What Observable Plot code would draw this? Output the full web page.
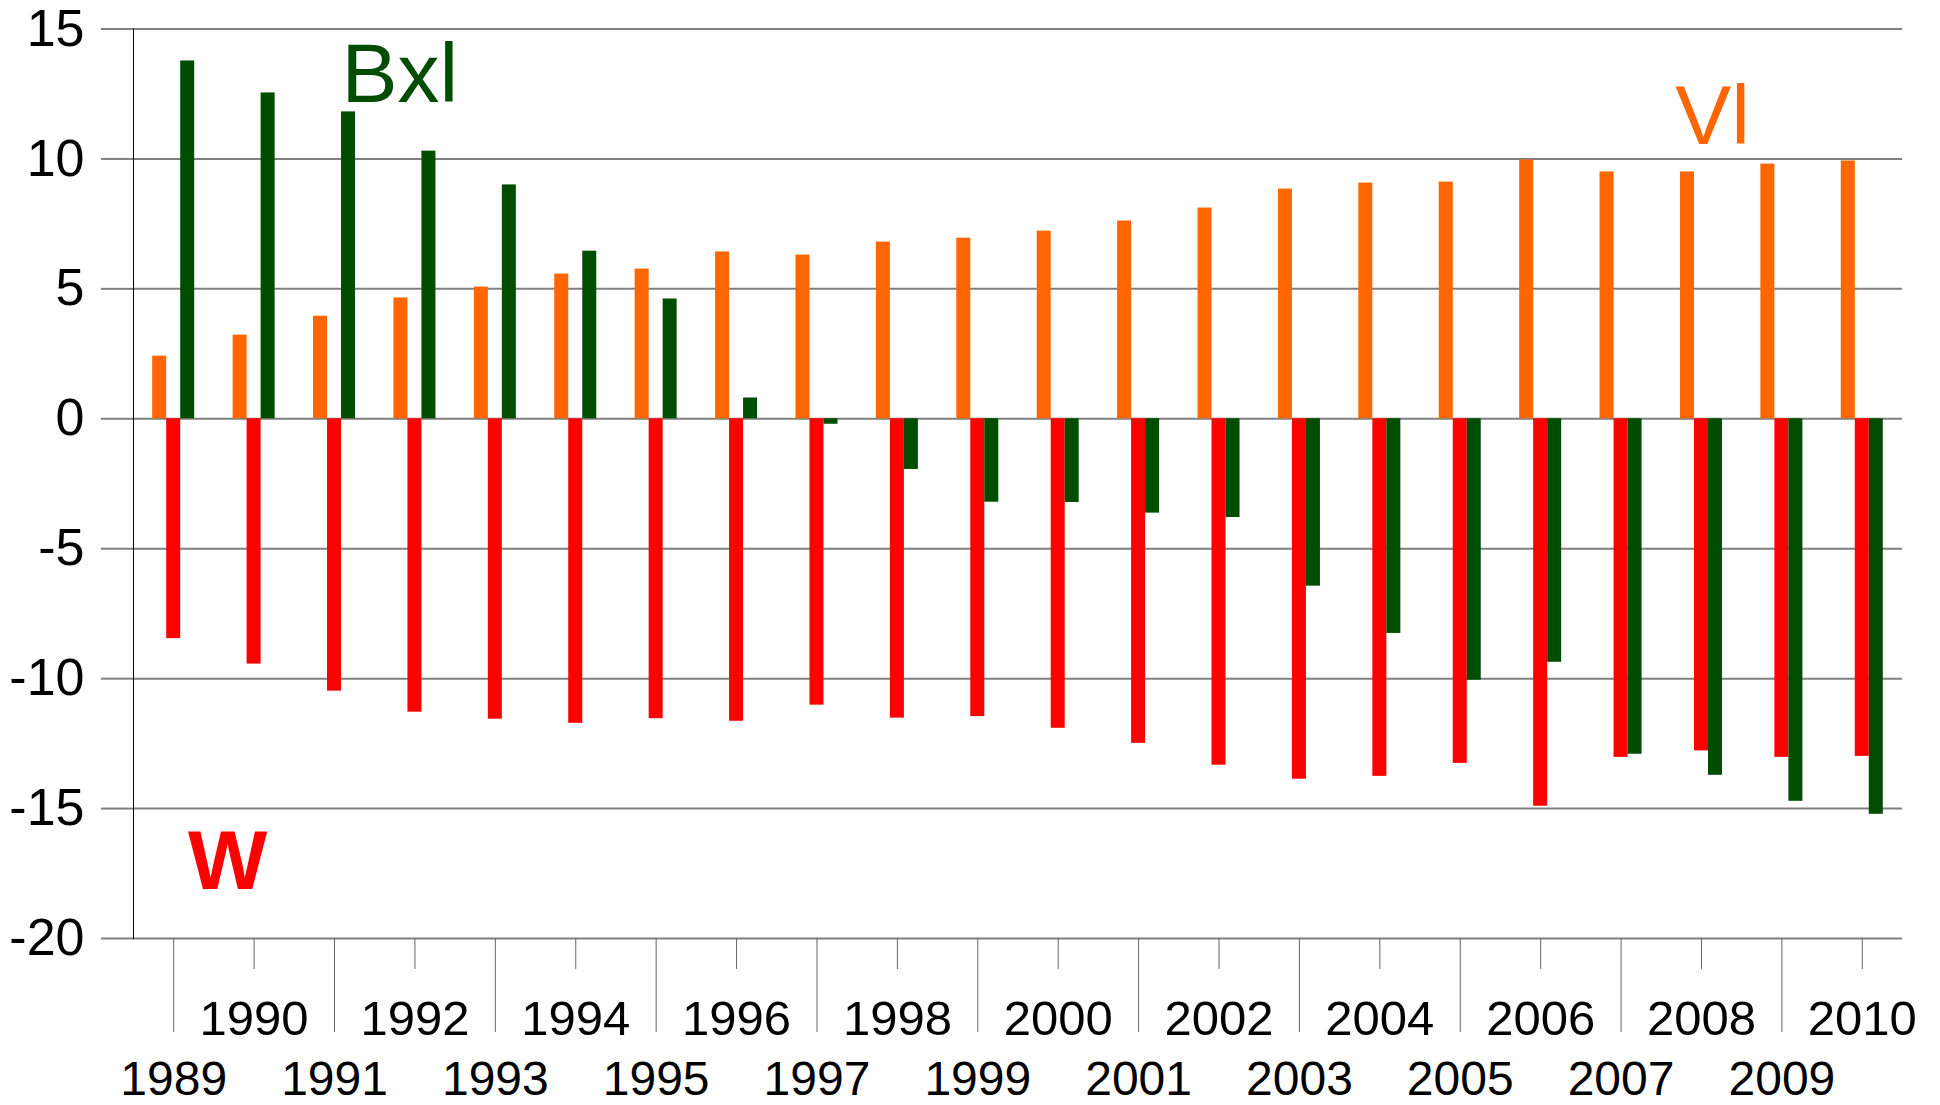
<!DOCTYPE html>
<html>
<head>
<meta charset="utf-8">
<script src="https://cdn.jsdelivr.net/npm/d3@7"></script>
<script src="https://cdn.jsdelivr.net/npm/@observablehq/plot@0.6"></script>
<style>
  html, body { margin: 0; padding: 0; background: #ffffff; }
  #chart svg { display: block; }
</style>
</head>
<body>
<div id="chart"></div>
<script>
// ---- data ----
const years = [1989, 1990, 1991, 1992, 1993, 1994, 1995, 1996, 1997, 1998, 1999,
               2000, 2001, 2002, 2003, 2004, 2005, 2006, 2007, 2008, 2009, 2010];
const vl  = [2.41, 3.22, 3.95, 4.65, 5.07, 5.57, 5.76, 6.42, 6.30, 6.80, 6.95,
             7.22, 7.61, 8.11, 8.84, 9.07, 9.11, 9.96, 9.50, 9.50, 9.80, 9.92];
const w   = [-8.46, -9.44, -10.48, -11.29, -11.56, -11.72, -11.54, -11.64, -11.02, -11.52, -11.46,
             -11.91, -12.49, -13.33, -13.87, -13.76, -13.26, -14.91, -13.03, -12.78, -13.03, -12.99];
const bxl = [13.77, 12.54, 11.81, 10.30, 9.00, 6.45, 4.61, 0.80, -0.21, -1.95, -3.21,
             -3.22, -3.63, -3.80, -6.44, -8.26, -10.06, -9.37, -12.91, -13.72, -14.72, -15.22];
const yTicks = [-20, -15, -10, -5, 0, 5, 10, 15];
const oddYears = years.filter(y => y % 2 === 1);
const evenYears = years.filter(y => y % 2 === 0);

// series labels (annotation text placed in the plot)
const seriesNames = ["Vl", "W", "Bxl"];
const labelYears  = [2008, 1989, 1991];
const labelValues = [11.62, -17.07, 13.23];

const table = years.map((year, i) => ({year, vl: vl[i], w: w[i], bxl: bxl[i]}));

// ---- layout ----
const width = 1940, height = 1105;
const marginLeft = 133, marginRight = 38, marginTop = 28.5, marginBottom = 167;
const step = (width - marginLeft - marginRight) / years.length;
const groupWidth = 42;
const padInner = 1 - groupWidth / step;
const third = groupWidth / 3;

const colors = {Vl: "#ff6600", W: "#ff0000", Bxl: "#004d00"};

const chart = Plot.plot({
  width, height, marginLeft, marginRight, marginTop, marginBottom,
  style: {fontFamily: "'Liberation Sans', Arial, sans-serif", background: "#ffffff", color: "#000"},
  x: {type: "band", domain: years, paddingInner: padInner, paddingOuter: padInner / 2, round: false, axis: null},
  y: {domain: [-20, 15], axis: null},
  marks: [
    Plot.gridY(yTicks, {stroke: "#808080", strokeOpacity: 1, strokeWidth: 2}),
    Plot.axisY(yTicks, {tickSize: 32, tickPadding: 17, stroke: "#808080", strokeWidth: 2,
                        fontSize: 52, label: null, tickFormat: d => String(d)}),
    Plot.frame({anchor: "left", stroke: "#000", strokeWidth: 1}),
    Plot.barY(table, {x: "year", y: "vl",  fill: colors.Vl,  insetRight: 2 * third}),
    Plot.barY(table, {x: "year", y: "w",   fill: colors.W,   insetLeft: third, insetRight: third}),
    Plot.barY(table, {x: "year", y: "bxl", fill: colors.Bxl, insetLeft: 2 * third}),
    Plot.axisX(oddYears,  {tickSize: 94, tickPadding: 28, stroke: "#666", fontSize: 48, label: null, tickFormat: d => String(d)}),
    Plot.axisX(evenYears, {tickSize: 31, tickPadding: 31, stroke: "#666", fontSize: 49, label: null, tickFormat: d => String(d)}),
    Plot.text([0], {x: () => labelYears[0], y: () => labelValues[0], text: () => seriesNames[0],
                    fill: colors.Vl, fontSize: 84, textAnchor: "middle", dx: 11, lineAnchor: "middle"}),
    Plot.text([1], {x: () => labelYears[1], y: () => labelValues[1], text: () => seriesNames[1],
                    fill: colors.W, fontSize: 84, fontWeight: "bold", textAnchor: "middle", dx: 54, lineAnchor: "middle"}),
    Plot.text([2], {x: () => labelYears[2], y: () => labelValues[2], text: () => seriesNames[2],
                    fill: colors.Bxl, fontSize: 84, textAnchor: "start", dx: 7, lineAnchor: "middle"})
  ]
});
document.getElementById("chart").appendChild(chart);
</script>
</body>
</html>
